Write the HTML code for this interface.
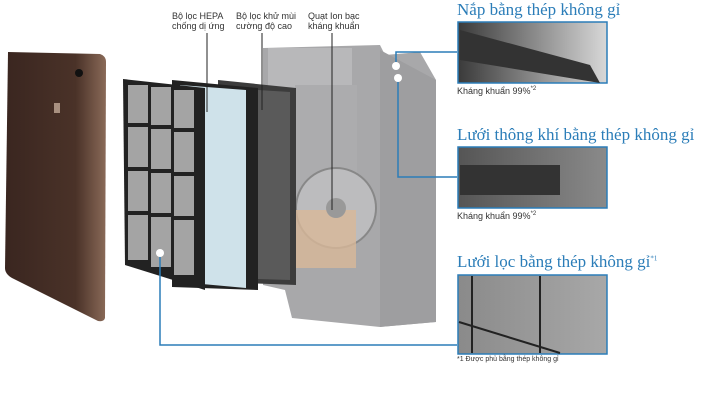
<!DOCTYPE html>
<html><head><meta charset="utf-8"><style>
body{margin:0;background:#fff;width:726px;height:401px;overflow:hidden;position:relative;font-family:"Liberation Sans",sans-serif}
.t{position:absolute;font-family:"Liberation Serif",serif;color:#2b7db8;font-size:17px;white-space:nowrap}
.s{position:absolute;font-size:9px;color:#333;white-space:nowrap}
.l{position:absolute;font-size:9px;color:#333;line-height:10px;white-space:nowrap}
</style></head><body>
<svg width="726" height="401" style="position:absolute;left:0;top:0">
<defs>
<linearGradient id="br" x1="0" x2="1"><stop offset="0" stop-color="#3a2620"/><stop offset=".7" stop-color="#4a3228"/><stop offset="1" stop-color="#8a6a58"/></linearGradient>
<linearGradient id="b1" x1="0" x2="1"><stop offset="0" stop-color="#3a3a3a"/><stop offset=".5" stop-color="#888"/><stop offset="1" stop-color="#d8d8d8"/></linearGradient>
<linearGradient id="b2" x1="0" x2="1"><stop offset="0" stop-color="#555"/><stop offset="1" stop-color="#8a8a8a"/></linearGradient>
<linearGradient id="b3" x1="0" x2="1"><stop offset="0" stop-color="#8a8a8a"/><stop offset="1" stop-color="#a8a8a8"/></linearGradient>
</defs>
<path d="M8,52 L100,54 Q106,56 106,62 L105,318 Q104,322 98,321 L12,278 Q5,274 5,268 Z" fill="url(#br)"/>
<rect x="54" y="103" width="6" height="10" fill="#a89080"/>
<circle cx="79" cy="73" r="4" fill="#111"/>
<path d="M263,48 L380,45 L385,55 L420,52 L436,80 L436,322 L380,327 L292,318 L285,290 L263,285 Z" fill="#a8a8aa"/>
<path d="M380,50 L436,80 L436,322 L380,327 Z" fill="#9e9ea0"/>
<rect x="268" y="48" width="84" height="40" fill="#b8b8ba"/>
<rect x="295" y="85" width="62" height="150" fill="#acacae"/>
<circle cx="336" cy="208" r="40" fill="#bcbcbe" stroke="#888" stroke-width="2"/>
<path d="M296,210 L356,210 L356,268 L296,268 Z" fill="#d8b898" opacity=".8"/>
<circle cx="336" cy="208" r="10" fill="#999"/>
<path d="M218,80 L296,88 L296,285 L218,282 Z" fill="#3c3c3c"/>
<path d="M226,88 L290,92 L290,280 L226,278 Z" fill="#5a5a5a"/>
<path d="M172,80 L258,88 L258,290 L172,287 Z" fill="#222"/>
<path d="M180,85 L246,90 L246,288 L180,282 Z" fill="#cfe2ea"/>
<path d="M123,79 L205,88 L205,290 L125,265 Z" fill="#222"/>
<g fill="#a4a4a4">
<rect x="128" y="85" width="20" height="38"/><rect x="151" y="87" width="20" height="38"/><rect x="174" y="90" width="20" height="38"/>
<rect x="128" y="127" width="20" height="40"/><rect x="151" y="129" width="20" height="40"/><rect x="174" y="132" width="20" height="40"/>
<rect x="128" y="171" width="20" height="40"/><rect x="151" y="173" width="20" height="40"/><rect x="174" y="176" width="20" height="40"/>
<rect x="128" y="215" width="20" height="45"/><rect x="151" y="217" width="20" height="50"/><rect x="174" y="220" width="20" height="55"/>
</g>
<g stroke="#222" stroke-width="1">
<line x1="207" y1="33" x2="207" y2="112"/><line x1="262" y1="33" x2="262" y2="110"/><line x1="332" y1="33" x2="332" y2="210"/>
</g>
<g stroke="#2b7db8" stroke-width="1.5" fill="none">
<polyline points="396,62 396,52 457,52"/>
<polyline points="398,80 398,177 457,177"/>
<polyline points="160,256 160,345 457,345"/>
</g>
<circle cx="396" cy="66" r="4" fill="#fff"/><circle cx="398" cy="78" r="4" fill="#fff"/><circle cx="160" cy="253" r="4" fill="#fff"/>
<rect x="458" y="22" width="149" height="61" fill="url(#b1)" stroke="#2b7db8" stroke-width="1.5"/>
<path d="M460,30 L590,65 L600,83 L460,60 Z" fill="#333"/>
<rect x="458" y="147" width="149" height="61" fill="url(#b2)" stroke="#2b7db8" stroke-width="1.5"/>
<rect x="460" y="165" width="100" height="30" fill="#333"/>
<rect x="458" y="275" width="149" height="79" fill="url(#b3)" stroke="#2b7db8" stroke-width="1.5"/>
<g stroke="#222" stroke-width="2"><line x1="472" y1="276" x2="472" y2="353"/><line x1="540" y1="276" x2="540" y2="353"/><line x1="459" y1="322" x2="560" y2="353"/></g>
</svg>
<div class="l" style="left:172px;top:11px">Bộ lọc HEPA<br>chống dị ứng</div>
<div class="l" style="left:236px;top:11px">Bộ lọc khử mùi<br>cường độ cao</div>
<div class="l" style="left:308px;top:11px">Quạt Ion bạc<br>kháng khuẩn</div>
<div class="t" style="left:457px;top:0px">Nắp bằng thép không gỉ</div>
<div class="s" style="left:457px;top:86px">Kháng khuẩn 99%<sup style="font-size:6px">*2</sup></div>
<div class="t" style="left:457px;top:125px">Lưới thông khí bằng thép không gỉ</div>
<div class="s" style="left:457px;top:211px">Kháng khuẩn 99%<sup style="font-size:6px">*2</sup></div>
<div class="t" style="left:457px;top:252px">Lưới lọc bằng thép không gỉ<sup style="font-size:7px">*1</sup></div>
<div class="s" style="left:457px;top:356px;font-size:7px">*1 Được phủ bằng thép không gỉ</div>
</body></html>
